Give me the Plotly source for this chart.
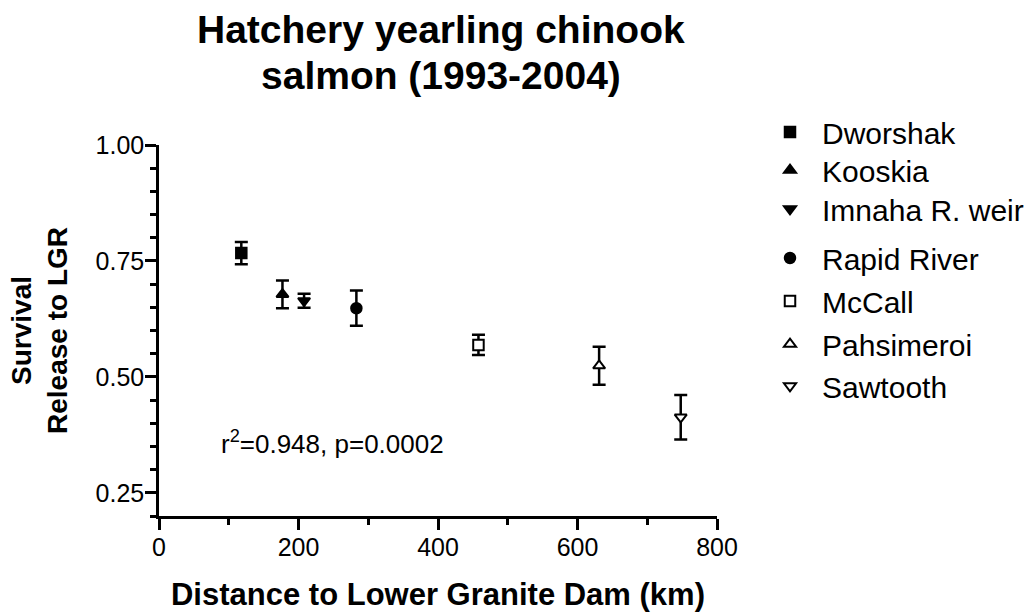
import plotly.graph_objects as go

# Data
sites = ["Dworshak", "Kooskia", "Imnaha R. weir", "Rapid River", "McCall", "Pahsimeroi", "Sawtooth"]
distance_km = [118, 177, 208, 283, 458, 631, 748]
survival = [0.767, 0.678, 0.664, 0.648, 0.569, 0.524, 0.413]
survival_err = [0.024, 0.030, 0.015, 0.038, 0.022, 0.041, 0.048]
symbols = ["square", "triangle-up", "triangle-down", "circle", "square", "triangle-up", "triangle-down"]
fills = ["black", "black", "black", "black", "white", "white", "white"]
title_lines = ["Hatchery yearling chinook", "salmon (1993-2004)"]

FONT = "Arial, Liberation Sans, Helvetica, sans-serif"
PLOT_TOP, PLOT_BOTTOM, PLOT_LEFT, PLOT_RIGHT = 145, 516, 159, 717
PH = PLOT_BOTTOM - PLOT_TOP
PW = PLOT_RIGHT - PLOT_LEFT
# vertical centre (px) of each legend row in the reference
legend_rows_px = [132, 170, 209, 258, 301, 344, 386]


def py(ypx):
    return (PLOT_BOTTOM - ypx) / PH


def px(xpx):
    return (xpx - PLOT_LEFT) / PW


fig = go.Figure()
legend_layouts = {}
for i, (name, x, y, e, sym, fc) in enumerate(zip(sites, distance_km, survival, survival_err, symbols, fills)):
    lname = "legend" if i == 0 else "legend%d" % (i + 1)
    fig.add_trace(go.Scatter(
        x=[x], y=[y], name=name, mode="markers",
        legend=lname,
        marker=dict(symbol=sym, size=10.5, color=fc, line=dict(color="black", width=2)),
        error_y=dict(type="data", array=[e], visible=True, color="black", thickness=2.5, width=6.5),
    ))
    legend_layouts[lname] = dict(
        x=px(758), y=py(legend_rows_px[i]), xanchor="left", yanchor="middle",
        font=dict(size=30, family=FONT, color="black"),
        bgcolor="rgba(0,0,0,0)",
        itemwidth=54,
        itemclick=False, itemdoubleclick=False,
    )

annotations = [
    dict(text="<b>%s</b>" % title_lines[0], xref="paper", yref="paper", x=0.505, y=py(29),
         xanchor="center", yanchor="middle", showarrow=False,
         font=dict(size=39, family=FONT, color="black")),
    dict(text="<b>%s</b>" % title_lines[1], xref="paper", yref="paper", x=0.505, y=py(75),
         xanchor="center", yanchor="middle", showarrow=False,
         font=dict(size=39, family=FONT, color="black")),
    dict(text="r<sup>2</sup>=0.948, p=0.0002",
         xref="paper", yref="paper", x=px(219), y=py(442),
         xanchor="left", yanchor="middle", showarrow=False,
         font=dict(size=26, family=FONT, color="black")),
]

fig.update_layout(
    width=1033, height=613,
    margin=dict(l=PLOT_LEFT, r=1033 - PLOT_RIGHT, t=PLOT_TOP, b=613 - PLOT_BOTTOM, autoexpand=False),
    plot_bgcolor="white", paper_bgcolor="white",
    font=dict(family=FONT, color="black"),
    showlegend=True,
    annotations=annotations,
    **legend_layouts,
)

fig.update_xaxes(
    range=[0, 800], tickmode="linear", tick0=0, dtick=200,
    showline=True, linecolor="black", linewidth=2.5,
    ticks="outside", ticklen=11, tickwidth=2.5, tickcolor="black",
    minor=dict(dtick=100, tick0=0, ticks="outside", ticklen=6, tickwidth=2.5, tickcolor="black", showgrid=False),
    showgrid=False, zeroline=False,
    tickfont=dict(size=25, family=FONT, color="black"),
    ticklabelstandoff=-4,
    title=dict(text="<b>Distance to Lower Granite Dam (km)</b>", font=dict(size=31, family=FONT, color="black"), standoff=24),
)
fig.update_yaxes(
    range=[0.2, 1.0], tickmode="linear", tick0=0.25, dtick=0.25, tickformat=".2f",
    showline=True, linecolor="black", linewidth=2.5,
    ticks="outside", ticklen=11, tickwidth=2.5, tickcolor="black",
    minor=dict(dtick=0.05, tick0=0, ticks="outside", ticklen=6, tickwidth=2.5, tickcolor="black", showgrid=False),
    showgrid=False, zeroline=False,
    tickfont=dict(size=25, family=FONT, color="black"),
    ticklabelstandoff=-4,
    title=dict(text="<b>Survival<br>Release to LGR</b>", font=dict(size=28, family=FONT, color="black"), standoff=20),
)

fig.write_html(
    "out.html",
    config={"displayModeBar": False},
    post_script="document.body.style.margin='0';document.body.style.overflow='hidden';",
)
